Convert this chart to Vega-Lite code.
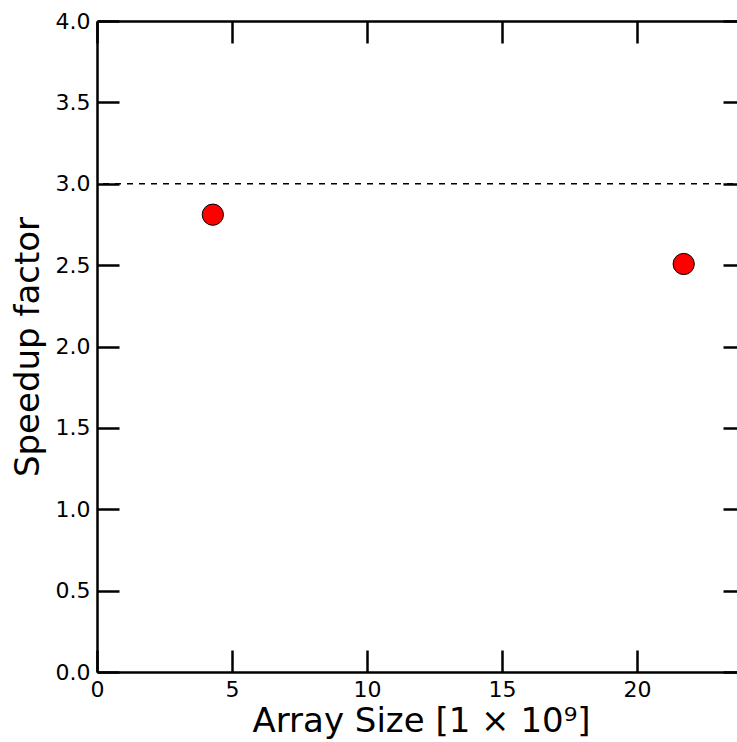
{
  "$schema": "https://vega.github.io/schema/vega-lite/v6.json",
  "width": 648,
  "height": 651,
  "autosize": {"type": "none"},
  "padding": {"left": 97, "top": 21, "right": -8, "bottom": 70},
  "config": {
    "view": {"stroke": null},
    "axis": {
      "grid": false,
      "labelFlush": false,
      "domainColor": "black",
      "domainWidth": 2.5,
      "tickColor": "black",
      "tickWidth": 2.5,
      "tickSize": -22,
      "labelFont": "DejaVu Sans",
      "labelFontSize": 22,
      "labelColor": "black",
      "titleFont": "DejaVu Sans",
      "titleFontSize": 34,
      "titleFontWeight": "normal",
      "titleColor": "black"
    }
  },
  "resolve": {"axis": {"x": "independent", "y": "independent"}},
  "layer": [
    {
      "data": {"values": [{"level": 3}]},
      "mark": {"type": "rule", "strokeDash": [6, 6], "strokeWidth": 1.5, "color": "black"},
      "encoding": {
        "y": {"field": "level", "type": "quantitative", "scale": {"domain": [0, 4], "nice": false}, "axis": null}
      }
    },
    {
      "data": {"values": [{"size": 4.29, "speedup": 2.81}, {"size": 21.73, "speedup": 2.507}]},
      "mark": {"type": "circle", "size": 452, "fill": "#ff0000", "stroke": "black", "strokeWidth": 1, "opacity": 1},
      "encoding": {
        "x": {
          "field": "size", "type": "quantitative",
          "scale": {"domain": [0, 24], "nice": false, "zero": false},
          "axis": {"orient": "bottom", "values": [0, 5, 10, 15, 20], "title": "Array Size [1 × 10⁹]", "labelPadding": 29, "titlePadding": 4}
        },
        "y": {
          "field": "speedup", "type": "quantitative",
          "scale": {"domain": [0, 4], "nice": false},
          "axis": {"orient": "left", "values": [0, 0.5, 1, 1.5, 2, 2.5, 3, 3.5, 4], "format": ".1f", "title": "Speedup factor", "labelPadding": 29, "titlePadding": 10}
        }
      }
    },
    {
      "data": {"values": [{"size": 4.29, "speedup": 2.81}, {"size": 21.73, "speedup": 2.507}]},
      "mark": {"type": "point", "opacity": 0},
      "encoding": {
        "x": {
          "field": "size", "type": "quantitative",
          "scale": {"domain": [0, 24], "nice": false, "zero": false},
          "axis": {"orient": "top", "values": [0, 5, 10, 15, 20], "labels": false, "title": null}
        },
        "y": {
          "field": "speedup", "type": "quantitative",
          "scale": {"domain": [0, 4], "nice": false},
          "axis": {"orient": "right", "values": [0, 0.5, 1, 1.5, 2, 2.5, 3, 3.5, 4], "labels": false, "title": null}
        }
      }
    }
  ]
}
